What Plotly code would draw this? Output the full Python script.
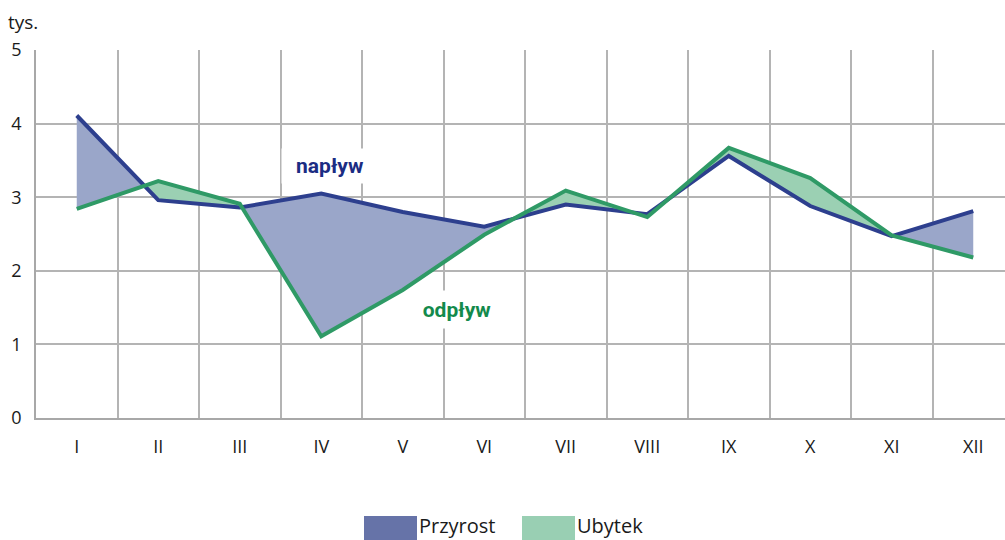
import numpy as np
import plotly.graph_objects as go

months = ["I", "II", "III", "IV", "V", "VI", "VII", "VIII", "IX", "X", "XI", "XII"]
naplyw = [4.11, 2.96, 2.86, 3.05, 2.80, 2.60, 2.90, 2.77, 3.56, 2.88, 2.47, 2.81]
odplyw = [2.84, 3.22, 2.91, 1.11, 1.74, 2.49, 3.09, 2.73, 3.67, 3.26, 2.48, 2.18]
y_ticks = [0, 1, 2, 3, 4, 5]

BLUE = "#2d3f8e"
GREEN = "#2f9a66"
BLUE_FILL = "#9aa6c9"
GREEN_FILL = "#9bd0b3"
BLUE_LEG = "#6673a8"
GREEN_LEG = "#99cfb3"
FONT = "Open Sans"

# insert crossing points so the piecewise fills are exact
b = np.array(naplyw, float)
g = np.array(odplyw, float)
xi = np.arange(len(months), dtype=float)
xs, bs, gs = [xi[0]], [b[0]], [g[0]]
for i in range(len(xi) - 1):
    d0 = b[i] - g[i]
    d1 = b[i + 1] - g[i + 1]
    if d0 * d1 < 0:
        t = d0 / (d0 - d1)
        xs.append(xi[i] + t)
        yc = b[i] + t * (b[i + 1] - b[i])
        bs.append(yc)
        gs.append(yc)
    xs.append(xi[i + 1])
    bs.append(b[i + 1])
    gs.append(g[i + 1])
xs = np.array(xs)
bs = np.array(bs)
gs = np.array(gs)
top = np.maximum(bs, gs)

fig = go.Figure()
fig.add_trace(go.Scatter(x=xs, y=gs, mode="lines", line=dict(width=0), showlegend=False, hoverinfo="skip"))
fig.add_trace(go.Scatter(x=xs, y=top, mode="lines", line=dict(width=0), fill="tonexty",
                         fillcolor=BLUE_FILL, showlegend=False, hoverinfo="skip"))
fig.add_trace(go.Scatter(x=xs, y=bs, mode="lines", line=dict(width=0), showlegend=False, hoverinfo="skip"))
fig.add_trace(go.Scatter(x=xs, y=top, mode="lines", line=dict(width=0), fill="tonexty",
                         fillcolor=GREEN_FILL, showlegend=False, hoverinfo="skip"))
fig.add_trace(go.Scatter(x=xi, y=naplyw, mode="lines", line=dict(color=BLUE, width=4),
                         showlegend=False, name="napływ"))
fig.add_trace(go.Scatter(x=xi, y=odplyw, mode="lines", line=dict(color=GREEN, width=4),
                         showlegend=False, name="odpływ"))

L, T, PW, PH = 36, 50, 969, 368
cat_px = 81.5
xmax = -0.5 + PW / cat_px

fig.update_layout(
    width=1005, height=540,
    margin=dict(l=L, r=0, t=T, b=540 - T - PH),
    paper_bgcolor="white", plot_bgcolor="white",
    font=dict(family=FONT, size=18, color="#1a1a1a"),
    showlegend=False,
    xaxis=dict(
        range=[-0.5, xmax], tickvals=list(xi), ticktext=months,
        showgrid=False, zeroline=False, showline=True, linecolor="#a8a8a8", linewidth=1.5,
        ticks="", ticklabelstandoff=12, tickfont=dict(size=18),
        minor=dict(tick0=0.5, dtick=1, showgrid=True, gridcolor="#b4b4b4", gridwidth=1.5, ticks=""),
        fixedrange=True,
    ),
    yaxis=dict(
        range=[0, 5], tickvals=y_ticks, showgrid=True, gridcolor="#b4b4b4", gridwidth=1.5,
        zeroline=False, showline=True, linecolor="#a8a8a8", linewidth=1.5, ticks="",
        ticklabelstandoff=9, tickfont=dict(size=18), fixedrange=True,
    ),
)

LAB_FONT = "Liberation Sans Narrow, Roboto, sans-serif"
fig.add_annotation(x=3.107, y=3.42, xref="x", yref="y", text="<b>napływ</b>", showarrow=False,
                   font=dict(family=LAB_FONT, size=21, color="#1b2c83"), bgcolor="white",
                   width=96, height=34, borderpad=0)
fig.add_annotation(x=4.67, y=1.48, xref="x", yref="y", text="<b>odpływ</b>", showarrow=False,
                   font=dict(family=LAB_FONT, size=21, color="#138a4c"), bgcolor="white",
                   width=96, height=37, borderpad=0)


def px2paper(xp, yp):
    return (xp - L) / PW, (T + PH - yp) / PH


tx, ty = px2paper(6, 22)
fig.add_annotation(x=tx, y=ty, xref="paper", yref="paper", text="tys.", showarrow=False,
                   xanchor="left", yanchor="middle", font=dict(size=19))

# legend
legend_items = [("Przyrost", BLUE_LEG, 364), ("Ubytek", GREEN_LEG, 522)]
for label, col, x0 in legend_items:
    ax0, ay0 = px2paper(x0, 516)
    ax1, ay1 = px2paper(x0 + 53, 545)
    fig.add_shape(type="rect", xref="paper", yref="paper", x0=ax0, x1=ax1, y0=ay1, y1=ay0,
                  fillcolor=col, line=dict(width=0), layer="above")
    lx, ly = px2paper(x0 + 53, 525)
    fig.add_annotation(x=lx, y=ly, xref="paper", yref="paper", text=label, showarrow=False,
                       xanchor="left", yanchor="middle", font=dict(size=20, color="#1a1a1a"))

fig.write_html("out.html", config={"displayModeBar": False},
               post_script="document.body.style.margin='0';document.body.style.overflow='hidden';")
